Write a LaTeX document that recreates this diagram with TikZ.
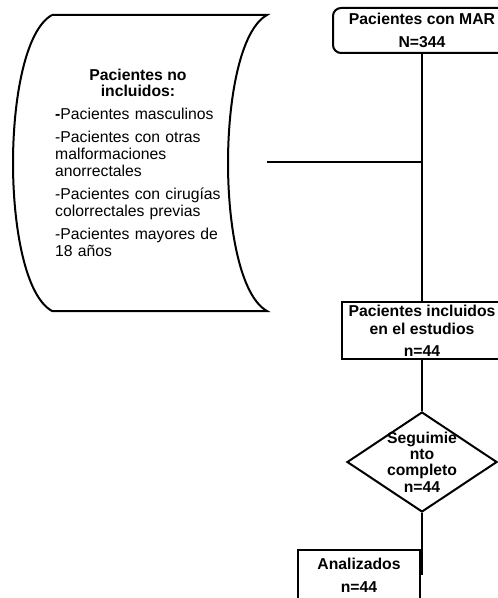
\documentclass[tikz,border=0pt]{standalone}
\usepackage{fontspec}
\setmainfont{Liberation Sans}
\usetikzlibrary{positioning, calc, shapes.geometric}
\hyphenpenalty=10000
\tikzset{
    line/.style={line width=2bp, black},
    txt/.style={font=\fontsize{15.8}{17.5}\selectfont, inner sep=0pt},
    bold/.style={txt, font=\fontsize{15.8}{17.5}\selectfont\bfseries, align=center},
    box/.style={line, draw, rectangle, inner sep=0pt},
    startbox/.style={box, rounded corners=8bp},
    decision/.style={line, draw, diamond, inner sep=0pt, minimum width=150bp, minimum height=100bp}
}

\begin{document}
\begin{tikzpicture}[x=1bp, y=-1bp]
    \useasboundingbox (0,0) rectangle (498,598);
    \clip (0,0) rectangle (498,598);
    % excluded patients
    \draw[line] (52,15) -- (267,15)
        .. controls (240,30) and (228,100) .. (228,163)
        .. controls (228,226) and (240,296) .. (267,311) -- (52,311)
        .. controls (25,296) and (13,226) .. (13,163)
        .. controls (13,100) and (25,30) .. (52,15);
    \node[bold, font=\fontsize{15.8}{15.5}\selectfont\bfseries] (exclhead) at (138,83) {Pacientes no\\incluidos:};
    \node[txt, anchor=north west, text width=172bp, align=left] (excllist) at (55,108)
        {\textbf{-}Pacientes masculinos\\[5pt]
         -Pacientes con otras malformaciones anorrectales\\[5pt]
         -Pacientes con cirugías colorrectales previas\\[5pt]
         -Pacientes mayores de 18 años};
    \coordinate (exclport) at (267,162);
    % main flow
    \node[startbox, minimum width=178bp, minimum height=45bp] (mar) at (422,30.5) {};
    \node[bold] at (mar) {Pacientes con MAR\\[5pt]N=344};
    \node[box, minimum width=160bp, minimum height=57bp] (incl) at (422,330) {};
    \node[bold] at ($(incl)+(0,1)$) {Pacientes incluidos\\en el estudios\\[5pt]n=44};
    \node[decision] (seg) at (422,462) {};
    \node[bold, font=\fontsize{15.8}{16.5}\selectfont\bfseries] at (seg) {Seguimie\\nto\\completo\\n=44};
    \node[box, minimum width=122bp, minimum height=56bp] (anal) at (359,578) {};
    \node[bold] at ($(anal)+(0,-3)$) {Analizados\\[6pt]n=44};
    \coordinate (analport) at (422,575);
    % connectors
    \draw[line] (mar.south) -- (incl.north);
    \draw[line] (exclport) -- (exclport -| mar.south);
    \draw[line] (incl.south) -- (seg.north);
    \draw[line] (seg.south) -- (analport);
\end{tikzpicture}
\end{document}
